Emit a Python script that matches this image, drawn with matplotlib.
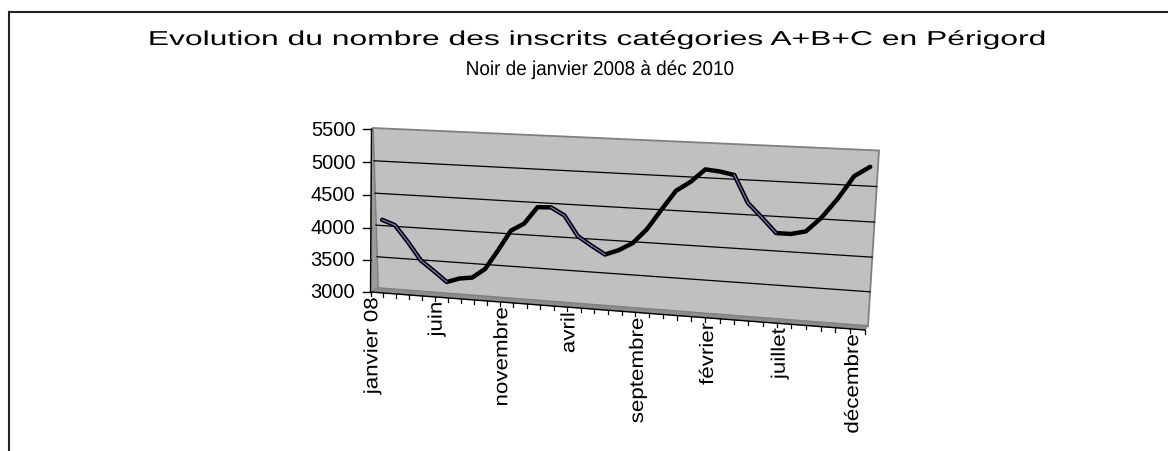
import numpy as np
import matplotlib.pyplot as plt
import matplotlib.transforms as mtransforms
from matplotlib import patheffects
from matplotlib.patches import Polygon

plt.rcParams['font.family'] = ['Liberation Sans', 'DejaVu Sans']

# données : inscrits cat. A+B+C, janvier 2008 -> décembre 2010
mois = ["janvier 08", "février", "mars", "avril", "mai", "juin", "juillet", "août",
        "septembre", "octobre", "novembre", "décembre",
        "janvier 09", "février", "mars", "avril", "mai", "juin", "juillet", "août",
        "septembre", "octobre", "novembre", "décembre",
        "janvier 10", "février", "mars", "avril", "mai", "juin", "juillet", "août",
        "septembre", "octobre", "novembre", "décembre"]
inscrits = [4090, 4020, 3770, 3490, 3340, 3180, 3250, 3280, 3430, 3730, 4050, 4170,
            4430, 4440, 4330, 4030, 3900, 3780, 3860, 3980, 4200, 4500, 4790, 4930,
            5120, 5100, 5060, 4670, 4470, 4260, 4260, 4310, 4520, 4800, 5130, 5270]
yticks = [3000, 3500, 4000, 4500, 5000, 5500]
label_idx = [0, 5, 10, 15, 20, 25, 30, 35]
titre = ["Evolution du nombre des inscrits catégories A+B+C en Périgord",
         "Noir de janvier 2008 à déc 2010"]


# perspective (homographie) pour imiter le graphique 3D d'Excel
class Perspective(mtransforms.Transform):
    input_dims = 2
    output_dims = 2

    def __init__(self, M):
        super().__init__()
        self.M = M

    def transform_non_affine(self, values):
        xy = np.asarray(values, float).reshape(-1, 2)
        p = np.c_[xy, np.ones(len(xy))] @ self.M.T
        return p[:, :2] / p[:, 2:3]


def quad_to(dst):
    src = [(0, 0), (1, 0), (1, 1), (0, 1)]
    A, b = [], []
    for (x, y), (X, Y) in zip(src, dst):
        A.append([x, y, 1, 0, 0, 0, -X * x, -X * y]); b.append(X)
        A.append([0, 0, 0, x, y, 1, -Y * x, -Y * y]); b.append(Y)
    h = np.linalg.solve(np.array(A, float), np.array(b, float))
    return np.append(h, 1).reshape(3, 3)


# texte étiré (le rendu Excel d'origine est déformé)
class Etire(patheffects.AbstractPathEffect):
    def __init__(self, sx=1.0, sy=1.0, cx=0.0, cy=0.0):
        super().__init__()
        self.sx, self.sy, self.cx, self.cy = sx, sy, cx, cy

    def draw_path(self, renderer, gc, tpath, affine, rgbFace=None):
        extra = (mtransforms.Affine2D().translate(-self.cx, -self.cy)
                 .scale(self.sx, self.sy).translate(self.cx, self.cy))
        renderer.draw_path(gc, tpath, affine + extra, rgbFace)


W, H = 1168, 451
fig = plt.figure(figsize=(W / 100, H / 100), dpi=100)
ax = fig.add_axes([0, 0, 1, 1])
ax.set_xlim(0, W)
ax.set_ylim(H, 0)
ax.axis('off')

n = len(mois)
vmin, vmax = yticks[0], yticks[-1]
norm = mtransforms.Affine2D().translate(0, -vmin).scale(1 / n, 1 / (vmax - vmin))
back_px = norm + Perspective(quad_to([(378, 288), (868, 326), (879, 150.5), (373, 128)]))
front_px = norm + Perspective(quad_to([(370.5, 292), (865, 330), (876, 154), (371.5, 129)]))
back = back_px + ax.transData
front = front_px + ax.transData

# cadre
ax.plot([9, W + 5], [12, 12], color='#222222', lw=1.5)
ax.plot([9, 9], [12, H + 5], color='#222222', lw=1.5)

# titre
ax.text(598, 45, titre[0], ha='center', va='baseline', fontsize=14.5,
        path_effects=[Etire(sx=1.58, cx=598)])
ax.text(600, 75, titre[1], ha='center', va='baseline', fontsize=14.5,
        path_effects=[Etire(sx=0.94, cx=600)])

# mur, côté et sol
ax.fill([0, n, n, 0], [vmin, vmin, vmax, vmax], transform=back,
        fc='#c0c0c0', ec='#808080', lw=1.3)
side = np.vstack([back_px.transform([(0, vmin), (0, vmax)]),
                  front_px.transform([(0, vmax), (0, vmin)])])
ax.add_patch(Polygon(side, closed=True, fc='#9a9a9a', ec='#808080', lw=0.6))
floor = np.vstack([back_px.transform([(0, vmin), (n, vmin)]),
                   front_px.transform([(n, vmin), (0, vmin)])])
ax.add_patch(Polygon(floor, closed=True, fc='#8c8c8c', ec='#808080', lw=0.6))

for v in yticks[1:-1]:
    ax.plot([0, n], [v, v], transform=back, color='black', lw=0.9)

# courbe (ruban noir, face bleutée sur les descentes)
u = np.arange(n) + 0.5
ax.plot(u, inscrits, transform=back, color='black', lw=3.2,
        solid_joinstyle='round', solid_capstyle='round')
for i in range(n - 1):
    if inscrits[i + 1] < inscrits[i] - 60:
        ax.plot(u[i:i + 2], inscrits[i:i + 2], transform=back,
                color='#7878c8', lw=0.9)

# axes
ax.plot([0, 0], [vmin, vmax], transform=front, color='black', lw=1)
ax.plot([0, n], [vmin, vmin], transform=front, color='black', lw=1)
for v in yticks:
    px, py = front_px.transform((0, v))
    ax.plot([px - 8, px], [py, py], color='black', lw=1)
    ax.text(px - 16, py + 6.5, f"{v}", ha='right', va='baseline', fontsize=14.5)
for k in range(n + 1):
    px, py = front_px.transform((k, vmin))
    ax.plot([px, px], [py, py + 4], color='black', lw=0.9)
for i in label_idx:
    px, py = front_px.transform((i + 0.5, vmin))
    ax.text(px - 4, py + 4, mois[i], rotation=90, ha='center', va='top', fontsize=14,
            path_effects=[Etire(sy=1.15, cx=px, cy=H - (py + 4))])

fig.savefig('out.png', dpi=100)
